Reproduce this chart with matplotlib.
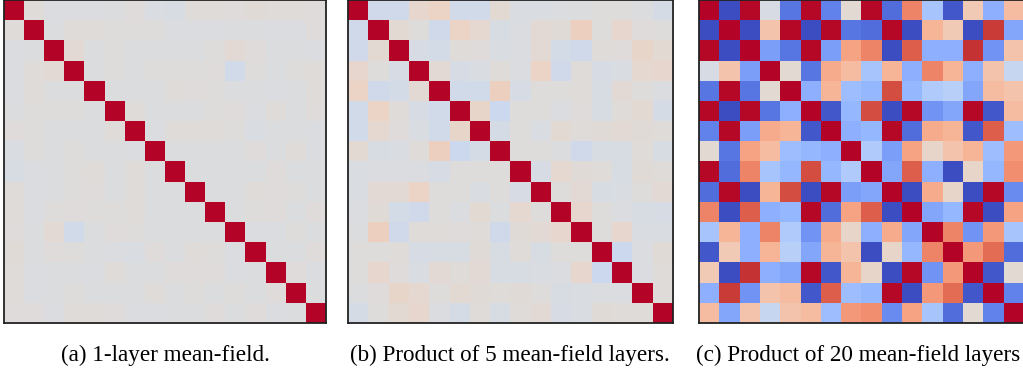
import numpy as np
import matplotlib
matplotlib.use("Agg")
import matplotlib.pyplot as plt

# upper-triangle correlations (row i, columns j > i); diagonal is 1
corr_a_upper = [
    [.02, -.02, -.02, -.02, -.01, .01, -.03, -.04, .02, .02, .01, .03, .02, .02, .01],
    [-.01, .02, .02, 0, 0, 0, -.02, -.02, -.02, -.01, -.01, -.02, -.02, .01],
    [.04, -.01, 0, -.01, -.01, -.01, -.01, 0, .04, .01, -.01, -.01, -.02],
    [-.01, 0, -.01, 0, 0, 0, .01, -.08, 0, -.01, 0, .02],
    [-.01, -.01, -.01, .02, .01, 0, -.01, -.01, -.02, -.01, .02],
    [.02, -.01, -.01, -.01, 0, .01, -.02, .02, -.01, .01],
    [-.02, .02, .02, .02, 0, -.03, -.01, -.01, -.02],
    [-.01, -.01, -.01, -.01, .01, -.01, .02, -.02],
    [-.01, -.01, -.01, -.01, .01, -.01, -.01],
    [-.01, -.01, .02, .01, 0, -.01],
    [-.01, 0, .01, -.01, .01],
    [-.02, -.02, 0, -.01],
    [-.01, -.01, .01],
    [.01, -.02],
    [-.01],
]

corr_b_upper = [
    [-.10, -.10, .08, .12, -.08, -.08, .05, -.03, -.03, -.02, -.01, 0, 0, -.01, -.06],
    [.05, 0, -.10, .12, .06, -.04, -.02, .04, .03, .15, 0, .08, .01, 0],
    [-.05, -.07, .02, .01, -.03, -.02, .04, -.07, -.10, .02, .01, .10, .05],
    [.04, -.05, -.03, .02, -.02, .12, -.10, .02, -.05, -.03, .06, .08],
    [-.08, -.08, .15, -.05, 0, 0, .02, -.04, .04, 0, -.02],
    [.10, -.12, 0, 0, -.02, .01, -.04, .02, .05, -.06],
    [-.06, 0, -.03, .05, .02, .03, .04, .03, .02],
    [0, 0, -.01, -.10, -.04, -.04, .02, -.04],
    [-.05, .06, .03, .02, -.04, .03, .02],
    [0, .04, -.04, -.03, 0, .04],
    [.08, 0, -.02, -.04, -.05],
    [0, .08, -.03, -.03],
    [-.12, -.02, .03],
    [-.02, .02],
    [.02],
]

corr_c_upper = [
    [-.99, .99, -.05, -.80, .99, -.75, .05, .99, -.85, .60, -.35, -.94, .20, -.50, .30],
    [-.99, .25, .99, -.99, .99, -.80, -.85, .99, -.99, .35, .20, -.99, .88, -.55],
    [-.60, -.80, .99, -.60, .45, .60, -.99, .75, -.50, -.50, .90, -.65, .25],
    [.05, -.80, .40, .30, -.35, .35, -.50, .60, .35, -.50, .25, -.15],
    [-.50, .35, -.40, -.45, .82, -.45, -.30, -.25, -.55, .30, .25],
    [-.94, -.45, .82, -.99, .99, -.65, -.55, .99, -.94, .30],
    [-.50, -.45, .99, -.85, .40, .35, -.94, .75, -.40],
    [-.30, -.60, .45, .10, .25, .35, -.40, .50],
    [-.55, .75, -.50, -.99, .10, -.45, .55],
    [-.99, .40, .10, -.99, .99, -.70],
    [-.55, -.45, .99, -.99, .45],
    [.60, -.65, .50, -.35],
    [.50, .70, -.85],
    [-.94, .05],
    [-.75],
]

captions = ["(a) 1-layer mean-field.",
            "(b) Product of 5 mean-field layers.",
            "(c) Product of 20 mean-field layers"]


def full_matrix(upper):
    n = len(upper) + 1
    m = np.eye(n)
    for i, row in enumerate(upper):
        for k, v in enumerate(row):
            m[i, i + 1 + k] = v
            m[i + 1 + k, i] = v
    return m


W, H = 1023, 373
fig = plt.figure(figsize=(W / 100, H / 100), dpi=100)

# axes boxes in pixels: left, width
boxes = [(4, 322), (348, 325), (699, 325)]
mats = [full_matrix(corr_a_upper), full_matrix(corr_b_upper), full_matrix(corr_c_upper)]

for (left, width), mat in zip(boxes, mats):
    ax = fig.add_axes([left / W, 50 / H, width / W, 323 / H])
    ax.imshow(mat, cmap="coolwarm", vmin=-1, vmax=1, aspect="auto",
              interpolation="nearest")
    ax.set_xticks([])
    ax.set_yticks([])
    for s in ax.spines.values():
        s.set_linewidth(1.3)
        s.set_color("#222222")

fs = 16.7
fig.text(165 / W, 1 - 355 / H, captions[0], ha="center", va="center",
         fontsize=fs, family="Liberation Serif")
fig.text(510 / W, 1 - 355 / H, captions[1], ha="center", va="center",
         fontsize=fs, family="Liberation Serif")
fig.text(696 / W, 1 - 355 / H, captions[2], ha="left", va="center",
         fontsize=fs, family="Liberation Serif")

fig.savefig("out.png", dpi=100)
